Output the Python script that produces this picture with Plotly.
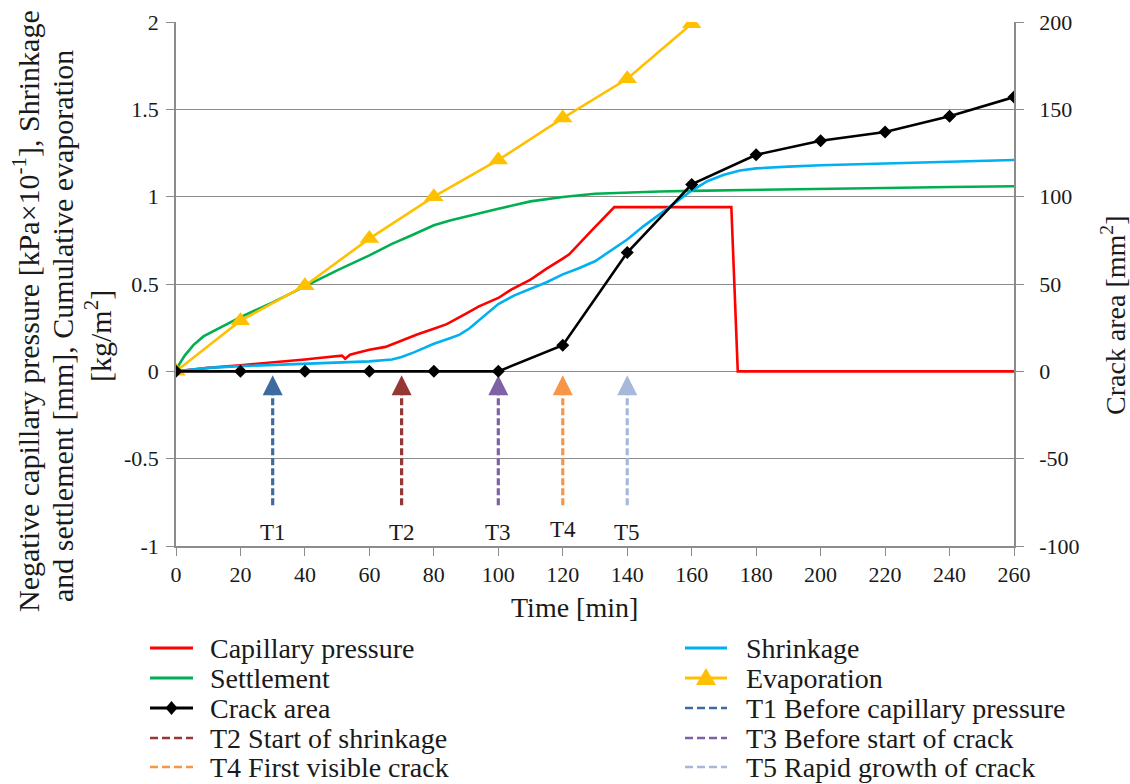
import plotly.graph_objects as go

# ---- data -------------------------------------------------------------
t_marks = [0, 20, 40, 60, 80, 100, 120, 140, 160, 180, 200, 220, 240, 260]
crack_area = [0, 0, 0, 0, 0, 0, 15, 68, 107, 124, 132, 137, 146, 157]

t_evap = [0, 20, 40, 60, 80, 100, 120, 140, 160]
evaporation = [0, 0.29, 0.49, 0.76, 1.00, 1.21, 1.45, 1.675, 1.99]

t_cap = [0, 10, 20, 30, 40, 45, 50, 51.5, 52.5, 54, 56, 60, 65, 70, 75, 80, 84,
         90, 94, 100, 104, 110, 115, 120, 122, 129, 136, 172.3, 174.3, 260]
capillary = [0, 0.02, 0.035, 0.05, 0.068, 0.078, 0.088, 0.09, 0.072, 0.095,
             0.105, 0.124, 0.14, 0.177, 0.212, 0.244, 0.27, 0.33, 0.372, 0.42,
             0.468, 0.525, 0.588, 0.645, 0.67, 0.807, 0.94, 0.94, 0, 0]

t_shr = [0, 10, 20, 30, 40, 50, 60, 67, 70, 74, 80, 85, 88, 91, 94, 97, 100,
         105, 110, 115, 120, 125, 130, 135, 140, 145, 150, 155, 160, 165, 170,
         175, 180, 190, 200, 220, 240, 260]
shrinkage = [0, 0.02, 0.03, 0.037, 0.044, 0.05, 0.057, 0.068, 0.082, 0.11,
             0.158, 0.19, 0.21, 0.245, 0.29, 0.34, 0.385, 0.435, 0.473, 0.51,
             0.555, 0.59, 0.63, 0.69, 0.755, 0.83, 0.9, 0.97, 1.035, 1.09,
             1.125, 1.15, 1.162, 1.172, 1.18, 1.19, 1.2, 1.21]

t_set = [0, 1, 2.7, 5.4, 8.5, 12.6, 16, 20, 30, 40, 50, 60, 67, 73, 80, 85, 90,
         100, 110, 120, 130, 140, 150, 160, 180, 200, 220, 240, 260]
settlement = [0, 0.04, 0.09, 0.15, 0.2, 0.24, 0.275, 0.31, 0.395, 0.487, 0.578,
              0.664, 0.73, 0.778, 0.836, 0.864, 0.887, 0.931, 0.973, 0.998,
              1.017, 1.025, 1.03, 1.033, 1.04, 1.045, 1.05, 1.055, 1.06]

stage_tags = ["T1", "T2", "T3", "T4", "T5"]
stage_times = [30, 70, 100, 120, 140]
stage_names = ["T1 Before capillary pressure", "T2 Start of shrinkage",
               "T3 Before start of crack", "T4 First visible crack",
               "T5 Rapid growth of crack"]
stage_colors = ["#3F6A9F", "#953735", "#7F62A5", "#F79646", "#A6B9DB"]
stage_arrow_tip = -0.023
stage_arrow_tail = -0.767
stage_label_y = [-0.925, -0.925, -0.925, -0.905, -0.925]

x_ticks = list(range(0, 261, 20))
y_ticks = [-1, -0.5, 0, 0.5, 1, 1.5, 2]
y_ticktext = ["-1", "-0.5", "0", "0.5", "1", "1.5", "2"]
y2_ticks = [-100, -50, 0, 50, 100, 150, 200]
y2_ticktext = ["-100", "-50", "0", "50", "100", "150", "200"]

# ---- styling ----------------------------------------------------------
W, H = 1130, 784
SERIF = "Liberation Serif"
TXT = "#1a1a1a"
GRID = "#8c8c8c"
RED, GREEN, BLUE, GOLD, BLACK = "#FF0000", "#00B050", "#00B0F0", "#FFC000", "#000000"


def px(x):
    return x / W


def py(y):
    return 1 - y / H


fig = go.Figure()

fig.add_trace(go.Scatter(x=t_cap, y=capillary, mode="lines", name="Capillary pressure",
                         line=dict(color=RED, width=2.6)))
fig.add_trace(go.Scatter(x=t_set, y=settlement, mode="lines", name="Settlement",
                         line=dict(color=GREEN, width=2.6)))
fig.add_trace(go.Scatter(x=t_shr, y=shrinkage, mode="lines", name="Shrinkage",
                         line=dict(color=BLUE, width=2.6)))
fig.add_trace(go.Scatter(x=t_evap, y=evaporation, mode="lines+markers", name="Evaporation",
                         line=dict(color=GOLD, width=2.6),
                         marker=dict(symbol="triangle-up", size=17, color=GOLD)))

# stage arrows: dashed shaft plus arrow head
for tag, t, nm, col, ly in zip(stage_tags, stage_times, stage_names, stage_colors, stage_label_y):
    fig.add_trace(go.Scatter(x=[t, t], y=[stage_arrow_tail, stage_arrow_tip - 0.09],
                             mode="lines", name=nm,
                             line=dict(color=col, width=3.2, dash="7px,3px")))
    fig.add_trace(go.Scatter(x=[t], y=[stage_arrow_tip], mode="markers", name=nm,
                             marker=dict(symbol="arrow-up", size=20, color=col,
                                         line=dict(width=0))))
    fig.add_annotation(x=t, y=ly, xref="x", yref="y", text=tag, showarrow=False,
                       font=dict(family=SERIF, size=23, color=TXT),
                       xanchor="center", yanchor="middle")

fig.add_trace(go.Scatter(x=t_marks, y=crack_area, mode="lines+markers", name="Crack area",
                         yaxis="y2", line=dict(color=BLACK, width=2.6),
                         marker=dict(symbol="diamond", size=10, color=BLACK)))

fig.update_traces(showlegend=False)

axis_common = dict(ticks="outside", ticklen=8, tickwidth=1.3, tickcolor=GRID,
                   showline=True, linecolor=GRID, linewidth=1.5, zeroline=False,
                   automargin=False, tickfont=dict(family=SERIF, size=22, color=TXT))

fig.update_layout(
    width=W, height=H,
    margin=dict(l=0, r=0, t=0, b=0),
    paper_bgcolor="white", plot_bgcolor="white",
    showlegend=False,
    font=dict(family=SERIF, color=TXT),
    xaxis=dict(domain=[px(176), px(1014)], range=[0, 260], tickvals=x_ticks,
               showgrid=False, **axis_common),
    yaxis=dict(domain=[py(546), py(22)], range=[-1, 2], tickvals=y_ticks,
               ticktext=y_ticktext, showgrid=True, gridcolor=GRID, gridwidth=1.3,
               ticklabelstandoff=3, **axis_common),
    yaxis2=dict(overlaying="y", side="right", anchor="x", range=[-100, 200],
                tickvals=y2_ticks, ticktext=y2_ticktext, showgrid=False,
                ticklabelstandoff=11, **axis_common),
)

# ---- axis titles --------------------------------------------------------
title_font = dict(family=SERIF, size=28, color=TXT)
left_font = dict(family=SERIF, size=30, color=TXT)
left_title = ["Negative capillary pressure [kPa×10<sup>-1</sup>], Shrinkage",
              "and settlement [mm], Cumulative evaporation",
              "[kg/m<sup>2</sup>]"]
for line, xc, yc in zip(left_title, [26, 62, 98], [311, 326, 336]):
    fig.add_annotation(x=px(xc), y=py(yc), xref="paper", yref="paper", text=line,
                       textangle=-90, showarrow=False, font=left_font,
                       xanchor="center", yanchor="middle")
fig.add_annotation(x=px(1113), y=py(316), xref="paper", yref="paper",
                   text="Crack area [mm<sup>2</sup>]", textangle=-90, showarrow=False,
                   font=title_font, xanchor="center", yanchor="middle")
fig.add_annotation(x=px(574), y=py(607), xref="paper", yref="paper", text="Time [min]",
                   showarrow=False, font=title_font, xanchor="center", yanchor="middle")

# ---- legend (two columns below the plot) --------------------------------
legend_rows = [648, 678, 708, 738, 767]
legend_items = [
    ("Capillary pressure", RED, "solid", None),
    ("Shrinkage", BLUE, "solid", None),
    ("Settlement", GREEN, "solid", None),
    ("Evaporation", GOLD, "solid", "triangle"),
    ("Crack area", BLACK, "solid", "diamond"),
    (stage_names[0], stage_colors[0], "dash", None),
    (stage_names[1], stage_colors[1], "dash", None),
    (stage_names[2], stage_colors[2], "dash", None),
    (stage_names[3], stage_colors[3], "dash", None),
    (stage_names[4], stage_colors[4], "dash", None),
]
col_line = [(150, 193), (685, 727)]
col_text = [208, 744]

for i, (label, col, style, sym) in enumerate(legend_items):
    c = i % 2
    yy = legend_rows[i // 2]
    x0, x1 = col_line[c]
    fig.add_shape(type="line", xref="paper", yref="paper",
                  x0=px(x0), x1=px(x1), y0=py(yy), y1=py(yy),
                  line=dict(color=col, width=3 if style == "solid" else 2.6,
                            dash="solid" if style == "solid" else "8px,4px"))
    xc = (x0 + x1) / 2
    if sym == "diamond":
        path = "M {} {} L {} {} L {} {} L {} {} Z".format(
            px(xc), py(yy - 7), px(xc + 6), py(yy), px(xc), py(yy + 7), px(xc - 6), py(yy))
        fig.add_shape(type="path", xref="paper", yref="paper", path=path,
                      fillcolor=col, line=dict(width=0))
    elif sym == "triangle":
        path = "M {} {} L {} {} L {} {} Z".format(
            px(xc), py(yy - 10), px(xc + 10), py(yy + 7), px(xc - 10), py(yy + 7))
        fig.add_shape(type="path", xref="paper", yref="paper", path=path,
                      fillcolor=col, line=dict(width=0))
    fig.add_annotation(x=px(col_text[c]), y=py(yy), xref="paper", yref="paper",
                       text=label, showarrow=False, xanchor="left", yanchor="middle",
                       font=dict(family=SERIF, size=28, color=TXT))

fig.write_html("out.html")
